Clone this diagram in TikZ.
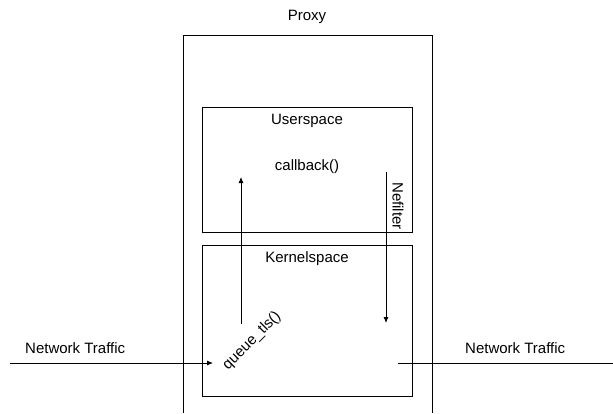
\documentclass[tikz,border=0pt]{standalone}
\usepackage{fontspec}
\setmainfont{Liberation Sans}
\usetikzlibrary{arrows.meta}

\tikzset{
  box/.style={draw, line width=0.8pt},
  lbl/.style={inner sep=0pt, font=\fontsize{15}{18}\selectfont},
  flow/.style={line width=0.8pt, -{Latex[length=6pt,width=5pt]}}
}

\begin{document}
\begin{tikzpicture}[x=1pt,y=-1pt]
\useasboundingbox (0,0) rectangle (613,413);

% proxy, open at the bottom
\draw[box] (183,413) -- (183,35) -- (432,35) -- (432,413);
\node[lbl] (proxy) at (307,17) {Proxy};

% the two spaces
\draw[box] (202,107) rectangle (412,232);
\node[lbl] (user) at (307,121) {Userspace};
\node[lbl] (cb) at (307,167) {callback()};
\node[lbl, rotate=-90] (nf) at (398,206) {Nefilter};

\draw[box] (202,245) rectangle (412,396);
\node[lbl] (kernel) at (307,259) {Kernelspace};
\node[lbl, rotate=45] (qt) at (252,341) {queue\_tls()};

% packet path
\coordinate (upA) at (241,324);
\coordinate (upB) at (241,177);
\coordinate (dnA) at (386,172);
\coordinate (dnB) at (386,323);
\draw[flow] (upA) -- (upB);
\draw[flow] (dnA) -- (dnB);

% traffic in and out
\node[lbl, anchor=west] (inT) at (25,348) {Network Traffic};
\node[lbl, anchor=west] (outT) at (465,348) {Network Traffic};
\coordinate (inA) at (10,363);
\coordinate (inB) at (213,363);
\coordinate (outA) at (398,363);
\coordinate (outB) at (613,363);
\draw[flow] (inA) -- (inB);
\draw[line width=0.8pt] (outA) -- (outB);
\end{tikzpicture}
\end{document}
